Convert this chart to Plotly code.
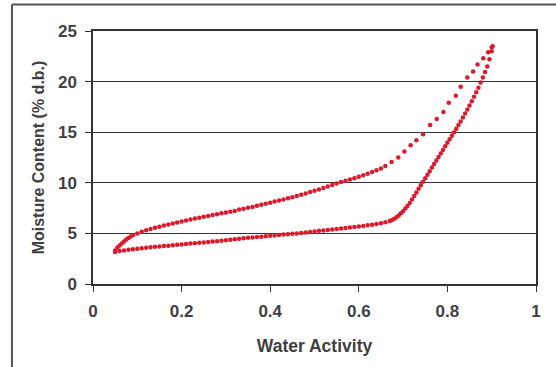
import plotly.graph_objects as go

# Adsorption branch (lower curve): water activity, moisture content (% d.b.)
ads_aw = [0.05, 0.06, 0.07, 0.08, 0.09, 0.10, 0.11, 0.12, 0.13, 0.14, 0.15, 0.16, 0.17, 0.18, 0.19,
          0.20, 0.21, 0.22, 0.23, 0.24, 0.25, 0.26, 0.27, 0.28, 0.29, 0.30, 0.31, 0.32, 0.33, 0.34,
          0.35, 0.36, 0.37, 0.38, 0.39, 0.40, 0.41, 0.42, 0.43, 0.44, 0.45, 0.46, 0.47, 0.48, 0.49,
          0.50, 0.51, 0.52, 0.53, 0.54, 0.55, 0.56, 0.57, 0.58, 0.59, 0.60, 0.61, 0.62, 0.63, 0.64,
          0.65, 0.66, 0.67, 0.675, 0.68, 0.685, 0.69, 0.695, 0.70, 0.705, 0.71, 0.715, 0.72, 0.725,
          0.73, 0.735, 0.74, 0.745, 0.75, 0.755, 0.76, 0.765, 0.77, 0.775, 0.78, 0.785, 0.79, 0.795,
          0.80, 0.805, 0.81, 0.815, 0.82, 0.825, 0.83, 0.835, 0.84, 0.845, 0.85, 0.855, 0.86, 0.865,
          0.87, 0.875, 0.88, 0.885, 0.89, 0.895, 0.90, 0.902]
ads_mc = [3.15, 3.25, 3.32, 3.38, 3.43, 3.48, 3.53, 3.58, 3.63, 3.67, 3.71, 3.75, 3.79, 3.83, 3.87,
          3.91, 3.95, 3.99, 4.03, 4.07, 4.11, 4.15, 4.19, 4.23, 4.28, 4.32, 4.37, 4.42, 4.47, 4.52,
          4.56, 4.60, 4.64, 4.68, 4.72, 4.76, 4.80, 4.84, 4.88, 4.92, 4.96, 5.00, 5.05, 5.10, 5.15,
          5.20, 5.25, 5.29, 5.33, 5.38, 5.43, 5.48, 5.53, 5.58, 5.63, 5.68, 5.74, 5.80, 5.86, 5.93,
          6.01, 6.10, 6.22, 6.32, 6.45, 6.60, 6.78, 6.98, 7.20, 7.45, 7.70, 8.00, 8.35, 8.70,
          9.05, 9.40, 9.75, 10.10, 10.45, 10.80, 11.15, 11.50, 11.85, 12.20, 12.55, 12.90, 13.25, 13.60,
          13.95, 14.30, 14.65, 15.00, 15.35, 15.70, 16.05, 16.45, 16.85, 17.25, 17.65, 18.05, 18.50, 18.95,
          19.40, 19.90, 20.40, 20.95, 21.50, 22.20, 23.00, 23.50]

# Desorption branch (upper curve)
des_aw = [0.05, 0.055, 0.06, 0.065, 0.07, 0.075, 0.08, 0.085, 0.09, 0.10, 0.11, 0.12, 0.13, 0.14,
          0.15, 0.16, 0.17, 0.18, 0.19, 0.20, 0.21, 0.22, 0.23, 0.24, 0.25, 0.26, 0.27, 0.28, 0.29,
          0.30, 0.31, 0.32, 0.33, 0.34, 0.35, 0.36, 0.37, 0.38, 0.39, 0.40, 0.41, 0.42, 0.43, 0.44,
          0.45, 0.46, 0.47, 0.48, 0.49, 0.50, 0.51, 0.52, 0.53, 0.54, 0.55, 0.56, 0.57, 0.58, 0.59,
          0.60, 0.61, 0.62, 0.63, 0.64, 0.65, 0.66, 0.674, 0.689, 0.703, 0.717, 0.730, 0.745, 0.761,
          0.776, 0.791, 0.803, 0.819, 0.830, 0.845, 0.858, 0.868, 0.881, 0.892, 0.900]
des_mc = [3.30, 3.60, 3.80, 4.00, 4.20, 4.40, 4.55, 4.70, 4.82, 5.00, 5.17, 5.32, 5.44, 5.55,
          5.66, 5.77, 5.87, 5.97, 6.07, 6.17, 6.27, 6.37, 6.46, 6.55, 6.64, 6.73, 6.82, 6.90, 6.98,
          7.06, 7.14, 7.22, 7.35, 7.44, 7.53, 7.62, 7.72, 7.82, 7.92, 8.03, 8.14, 8.25, 8.36, 8.47,
          8.58, 8.70, 8.82, 8.95, 9.08, 9.21, 9.35, 9.49, 9.64, 9.79, 9.93, 10.07, 10.20, 10.33, 10.46,
          10.60, 10.75, 10.90, 11.06, 11.23, 11.42, 11.65, 12.05, 12.50, 13.10, 13.70, 14.20, 14.80, 15.70,
          16.30, 17.00, 17.90, 18.60, 19.50, 20.40, 21.00, 21.70, 22.30, 22.90, 23.40]

x_ticks = [0, 0.2, 0.4, 0.6, 0.8, 1]
x_tick_labels = ["0", "0.2", "0.4", "0.6", "0.8", "1"]
y_ticks = [0, 5, 10, 15, 20, 25]

RED = "#dc1a2c"
TXT = "#404040"
FONT = "Liberation Sans, Arial, sans-serif"

fig = go.Figure()
fig.add_trace(go.Scatter(x=ads_aw, y=ads_mc, mode="markers",
                         marker=dict(size=4.5, color=RED), showlegend=False))
fig.add_trace(go.Scatter(x=des_aw, y=des_mc, mode="markers",
                         marker=dict(size=4.5, color=RED), showlegend=False))

fig.update_layout(
    width=556, height=367,
    margin=dict(l=93, r=20, t=31, b=83),
    paper_bgcolor="white", plot_bgcolor="white",
    font=dict(family=FONT, color=TXT, size=16),
    xaxis=dict(range=[0, 1], tickvals=x_ticks, ticktext=x_tick_labels, automargin=False,
               showgrid=False, zeroline=False,
               showline=True, linecolor="#333333", linewidth=1.5, mirror=True,
               ticks="outside", ticklen=6, tickcolor="#333333", tickwidth=1.2,
               ticklabelstandoff=5,
               tickfont=dict(family=FONT, size=17, color=TXT, weight="bold"),
               title=dict(text="<b>Water Activity</b>", standoff=20,
                          font=dict(family=FONT, size=17.5, color=TXT))),
    yaxis=dict(range=[0, 25], tickvals=y_ticks, automargin=False,
               showgrid=True, gridcolor="#333333", gridwidth=1, zeroline=False,
               showline=True, linecolor="#333333", linewidth=1.5, mirror=True,
               ticks="outside", ticklen=6, tickcolor="#333333", tickwidth=1.2,
               ticklabelstandoff=5,
               tickfont=dict(family=FONT, size=17, color=TXT, weight="bold"),
               title=dict(text="<b>Moisture Content (% d.b.)</b>", standoff=9,
                          font=dict(family=FONT, size=16, color=TXT))),
    shapes=[
        dict(type="line", xref="paper", yref="paper", x0=-0.183, x1=1.1, y0=1.105, y1=1.105,
             line=dict(color="#555555", width=2)),
        dict(type="line", xref="paper", yref="paper", x0=-0.183, x1=-0.183, y0=1.105, y1=-0.4,
             line=dict(color="#555555", width=2)),
    ],
)

fig.write_html("out.html", config={"displayModeBar": False},
               post_script="document.body.style.margin='0px';")
